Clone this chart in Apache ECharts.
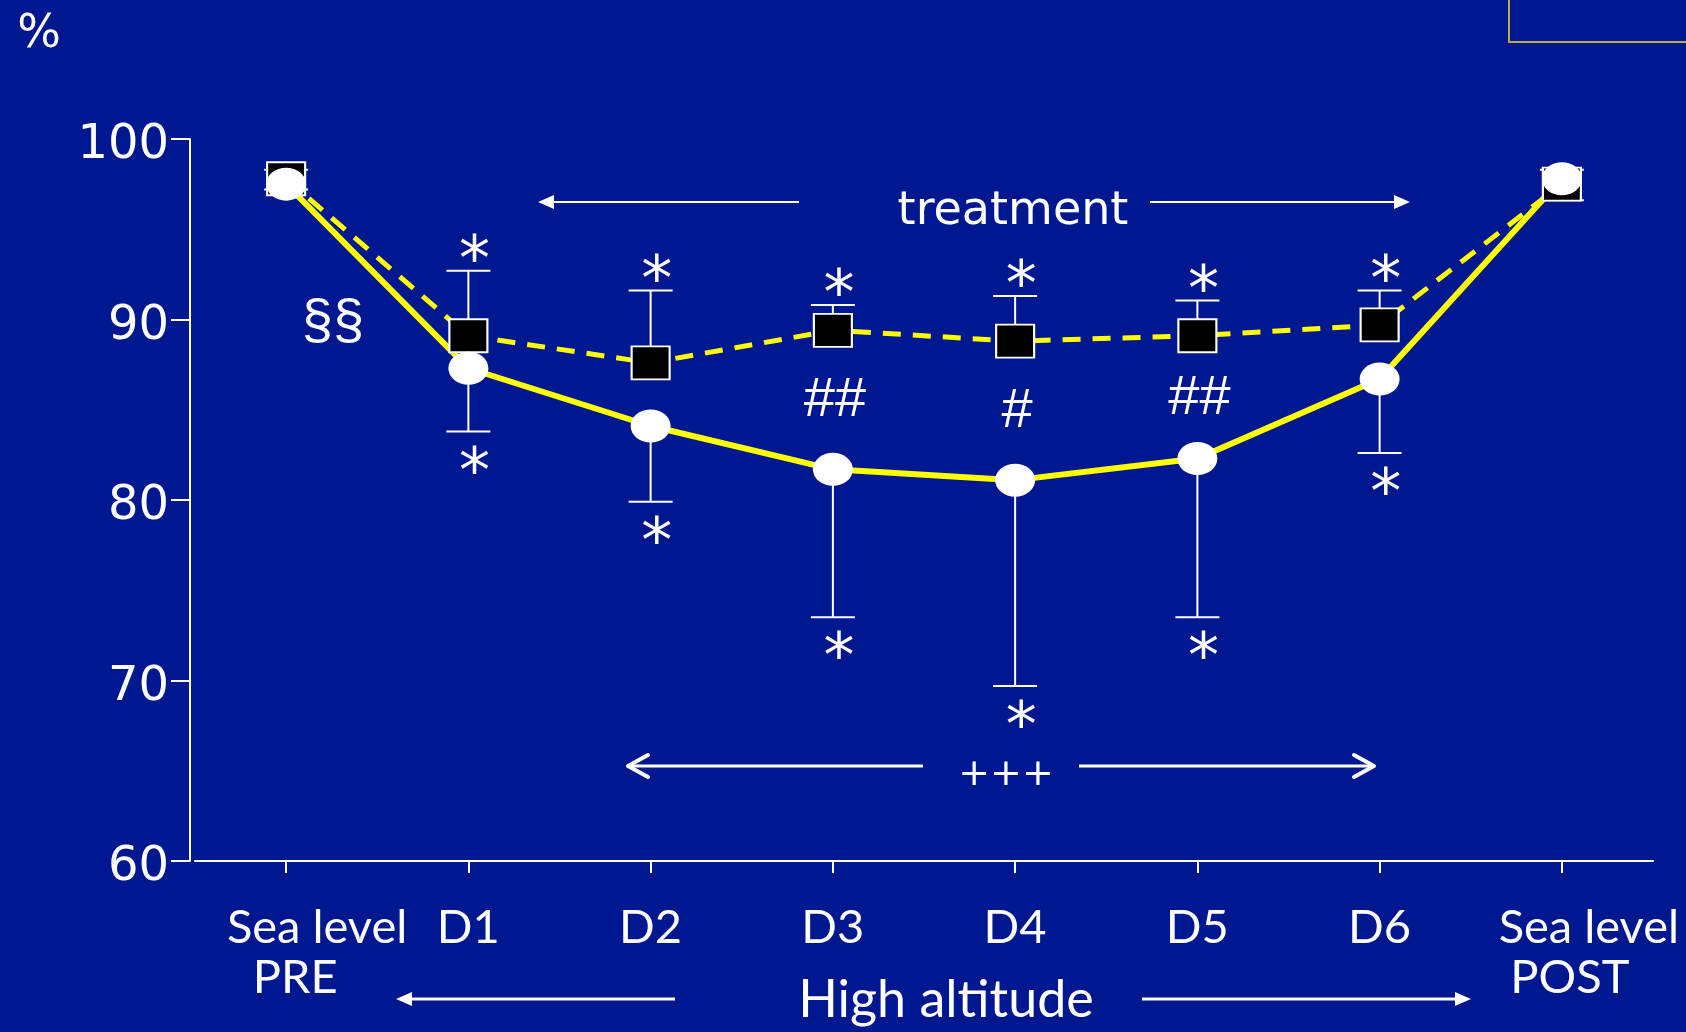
<!DOCTYPE html>
<html>
<head>
<meta charset="utf-8">
<title>Saturation at sea level and high altitude</title>
<script src="https://cdn.jsdelivr.net/npm/echarts@6/dist/echarts.min.js"></script>
<style>
  html, body { margin: 0; padding: 0; background: #00188f; }
  #chart { width: 1686px; height: 1032px; }
</style>
</head>
<body>
<div id="chart"></div>
<script>
// ---- data ----
const categories = ['Sea level PRE', 'D1', 'D2', 'D3', 'D4', 'D5', 'D6', 'Sea level POST'];
// open circles, solid line (mean and lower error bound)
const circleMean  = [97.5, 87.3, 84.1, 81.7, 81.1, 82.3, 86.7, 97.8];
const circleLower = [97.2, 83.8, 79.9, 73.5, 69.7, 73.5, 82.6, 96.6];
// filled squares, dashed line (mean and upper error bound)
const squareMean  = [97.8, 89.1, 87.6, 89.4, 88.8, 89.1, 89.7, 97.5];
const squareUpper = [98.3, 92.7, 91.6, 90.8, 91.3, 91.05, 91.6, 98.3];
// significance marks
const squareMarks  = ['', '*', '*', '*', '*', '*', '*', ''];
const circleMarks  = ['', '*', '*', '*', '*', '*', '*', ''];
const betweenMarks = ['', '', '', '##', '#', '##', '', ''];
const yTicks = [60, 70, 80, 90, 100];

// ---- styling ----
const BG = '#00188f';
const WHITE = '#ffffff';
const YELLOW = '#ffff00';
const WIDE = '"DejaVu Sans", Verdana, sans-serif';
const HUMAN = 'Lato, "Noto Sans", sans-serif';
const PLAIN = '"Liberation Sans", Arial, sans-serif';
const ellipsePath = 'path://M0,50 A50,50 0 1,1 100,50 A50,50 0 1,1 0,50 Z';

const chart = echarts.init(document.getElementById('chart'), null, { renderer: 'canvas' });

function errorBar(marks, above) {
  return function (params, api) {
    const i = api.value(0);
    const m = api.coord([i, api.value(1)]);
    const b = api.coord([i, api.value(2)]);
    const half = 22;
    const children = [
      { type: 'line', shape: { x1: m[0], y1: m[1], x2: b[0], y2: b[1] },
        style: { stroke: WHITE, lineWidth: 2 } },
      { type: 'line', shape: { x1: b[0] - half, y1: b[1], x2: b[0] + half, y2: b[1] },
        style: { stroke: WHITE, lineWidth: 2 } }
    ];
    const mark = marks[params.dataIndex];
    if (mark) {
      children.push({
        type: 'text', x: b[0] + 6, y: above ? b[1] - 7 : b[1] + 44,
        style: { text: mark, fill: WHITE, font: '62px ' + WIDE, align: 'center', verticalAlign: 'middle' }
      });
    }
    return { type: 'group', children };
  };
}

function arrow(x1, x2, y, head, width) {
  // tip is at x2
  const dir = x2 > x1 ? 1 : -1;
  const children = [];
  if (head === 'solid') {
    children.push({ type: 'line', shape: { x1, y1: y, x2: x2 - dir * 10, y2: y },
      style: { stroke: WHITE, lineWidth: width } });
    children.push({ type: 'polygon',
      shape: { points: [[x2, y], [x2 - dir * 16, y - 7], [x2 - dir * 16, y + 7]] },
      style: { fill: WHITE } });
  } else {
    children.push({ type: 'line', shape: { x1, y1: y, x2, y2: y },
      style: { stroke: WHITE, lineWidth: width } });
    children.push({ type: 'polyline',
      shape: { points: [[x2 - dir * 20, y - 11], [x2, y], [x2 - dir * 20, y + 11]] },
      style: { stroke: WHITE, lineWidth: 4, lineCap: 'round', lineJoin: 'round', fill: null } });
  }
  return { type: 'group', children };
}

function catLabel(value) {
  if (value === 'Sea level PRE') return '{pa|Sea level}\n{pb|PRE}';
  if (value === 'Sea level POST') return '{qa|Sea level}\n{qb|POST}';
  return value;
}
const richBase = { color: WHITE, fontFamily: HUMAN, fontSize: 47, lineHeight: 50 };

const option = {
  backgroundColor: BG,
  animation: false,
  grid: { left: 195, right: 33, top: 139, bottom: 171, outerBoundsMode: 'none' },
  xAxis: {
    type: 'category',
    data: categories,
    boundaryGap: true,
    axisLine: { lineStyle: { color: WHITE, width: 2 } },
    axisTick: { show: true, alignWithLabel: true, length: 12, lineStyle: { color: WHITE, width: 2 } },
    axisLabel: {
      interval: 0, margin: 42, color: WHITE, fontFamily: HUMAN, fontSize: 47, lineHeight: 50,
      formatter: catLabel,
      rich: {
        pa: Object.assign({ padding: [0, 0, 0, 62] }, richBase),
        pb: Object.assign({ padding: [0, 0, 0, 18] }, richBase),
        qa: Object.assign({ padding: [0, 0, 0, 54] }, richBase),
        qb: Object.assign({ padding: [0, 0, 0, 16] }, richBase)
      }
    },
    splitLine: { show: false }
  },
  yAxis: {
    type: 'value',
    min: yTicks[0], max: yTicks[yTicks.length - 1], interval: yTicks[1] - yTicks[0],
    offset: 5,
    axisLine: { show: true, lineStyle: { color: WHITE, width: 2 } },
    axisTick: { show: true, length: 19, lineStyle: { color: WHITE, width: 2 } },
    axisLabel: { color: WHITE, fontFamily: WIDE, fontSize: 48, margin: 21,
      verticalAlign: 'top', lineHeight: 14 },
    splitLine: { show: false }
  },
  series: [
    {
      name: 'square error', type: 'custom', z: 2,
      renderItem: errorBar(squareMarks, true),
      encode: { x: 0, y: [1, 2] },
      data: categories.map((c, i) => [i, squareMean[i], squareUpper[i]])
    },
    {
      name: 'circle error', type: 'custom', z: 2,
      renderItem: errorBar(circleMarks, false),
      encode: { x: 0, y: [1, 2] },
      data: categories.map((c, i) => [i, circleMean[i], circleLower[i]])
    },
    {
      name: 'circle line', type: 'line', z: 3, showSymbol: false,
      lineStyle: { color: YELLOW, width: 6 },
      data: circleMean
    },
    {
      name: 'squares', type: 'line', z: 4,
      symbol: 'rect', symbolSize: [38, 33],
      itemStyle: { color: '#000000', borderColor: WHITE, borderWidth: 2 },
      lineStyle: { color: YELLOW, width: 5, type: [18, 12] },
      data: squareMean
    },
    {
      name: 'circles', type: 'scatter', z: 5,
      symbol: ellipsePath, symbolSize: [40, 33],
      itemStyle: { color: WHITE, opacity: 1 },
      data: circleMean
    },
    {
      name: 'between marks', type: 'custom', z: 6,
      renderItem: function (params, api) {
        const mark = betweenMarks[params.dataIndex];
        if (!mark) return null;
        const i = api.value(0);
        const a = api.coord([i, api.value(1)]);
        const b = api.coord([i, api.value(2)]);
        return {
          type: 'text', x: a[0] + 2, y: (a[1] + b[1]) / 2 + 1,
          style: { text: mark, fill: WHITE, font: '56px ' + PLAIN, align: 'center', verticalAlign: 'middle' }
        };
      },
      encode: { x: 0, y: [1, 2] },
      data: categories.map((c, i) => [i, squareMean[i], circleMean[i]])
    }
  ],
  graphic: [
    { type: 'rect', shape: { x: 1509, y: -2, width: 200, height: 44 },
      style: { stroke: '#b8ad45', lineWidth: 2, fill: null } },
    { type: 'text', x: 39, y: 35,
      style: { text: '%', fill: WHITE, font: '46px ' + WIDE, align: 'center', verticalAlign: 'middle' } },
    { type: 'text', x: 333, y: 323,
      style: { text: '§§', fill: WHITE, font: '56px ' + PLAIN, align: 'center', verticalAlign: 'middle' } },
    // treatment period
    arrow(799, 538, 202, 'solid', 2),
    arrow(1150, 1410, 202, 'solid', 2),
    { type: 'text', x: 1013, y: 212,
      style: { text: 'treatment', fill: WHITE, font: '46px ' + WIDE, align: 'center', verticalAlign: 'middle' } },
    // +++ span
    arrow(923, 628, 766, 'open', 3),
    arrow(1079, 1374, 766, 'open', 3),
    { type: 'text', x: 1006, y: 775,
      style: { text: '+++', fill: WHITE, font: '38px ' + WIDE, align: 'center', verticalAlign: 'middle' } },
    // high altitude span
    arrow(675, 396, 999, 'solid', 3),
    arrow(1142, 1471, 999, 'solid', 3),
    { type: 'text', x: 946, y: 1000,
      style: { text: 'High altitude', fill: WHITE, font: '52px ' + HUMAN, align: 'center', verticalAlign: 'middle' } }
  ]
};

chart.setOption(option);
</script>
</body>
</html>
